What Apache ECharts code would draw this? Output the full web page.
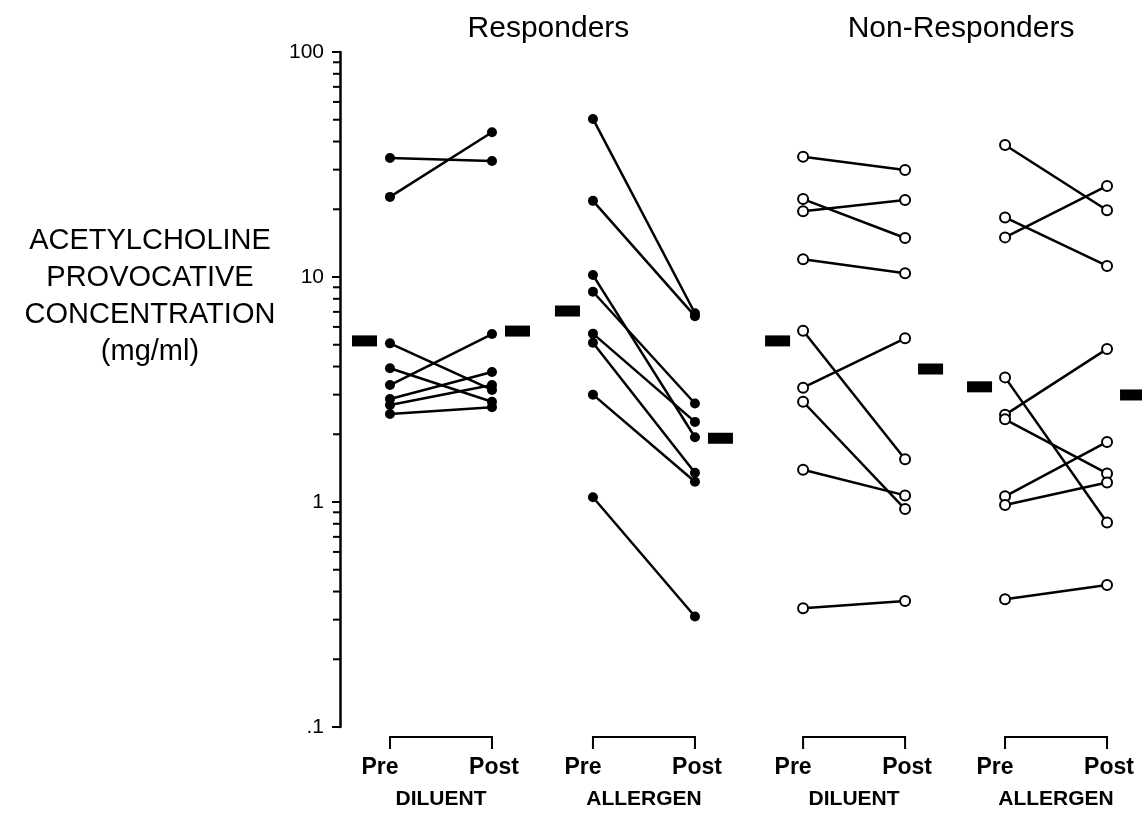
<!DOCTYPE html>
<html>
<head>
<meta charset="utf-8">
<title>Acetylcholine provocative concentration</title>
<script src="https://cdn.jsdelivr.net/npm/echarts@6/dist/echarts.min.js"></script>
<style>
  html, body { margin: 0; padding: 0; background: #fff; }
  #chart { width: 1142px; height: 816px; }
</style>
</head>
<body>
<div id="chart"></div>
<script>
// values (mg/ml), pre and post paired by index
const respDilPre  = [33.8, 22.7, 5.07, 3.93, 3.31, 2.87, 2.70, 2.46]
const respDilPost = [32.8, 44.0, 3.15, 2.79, 5.58, 3.78, 3.31, 2.64]
const respAllPre  = [50.4, 21.8, 10.2, 8.6, 5.6, 5.1, 3.0, 1.05]
const respAllPost = [6.9, 6.7, 1.94, 2.74, 2.27, 1.35, 1.23, 0.31]
const nrDilPre    = [34.2, 22.2, 19.6, 12.0, 5.77, 3.22, 2.79, 1.39, 0.337]
const nrDilPost   = [29.9, 14.9, 22.0, 10.4, 1.55, 5.34, 0.93, 1.07, 0.363]
const nrAllPre    = [38.6, 18.4, 15.0, 3.58, 2.44, 2.33, 1.06, 0.97, 0.37]
const nrAllPost   = [19.8, 11.2, 25.4, 0.81, 4.79, 1.34, 1.85, 1.22, 0.428]

// group means (black bars)
const meanPre  = [5.2, 7.06, 5.2, 3.25]
const meanPost = [5.75, 1.92, 3.9, 2.99]

const groupNames = ['DILUENT', 'ALLERGEN', 'DILUENT', 'ALLERGEN']
const timeLabels = ['Pre', 'Post']
const populations = ['Responders', 'Non-Responders']
const minorTicks = [0.2, 0.3, 0.4, 0.5, 0.6, 0.7, 0.8, 0.9, 2, 3, 4, 5, 6, 7, 8, 9, 20, 30, 40, 50, 60, 70, 80, 90]

// layout: x units, pre→post distance = 1
const xPre = [0.49, 2.48, 4.54, 6.52]
const barOffset = 0.25
const FONT = 'Liberation Sans'

const groups = [
  { pre: respDilPre, post: respDilPost, open: false },
  { pre: respAllPre, post: respAllPost, open: false },
  { pre: nrDilPre, post: nrDilPost, open: true },
  { pre: nrAllPre, post: nrAllPost, open: true },
]

const series = []
groups.forEach((g, gi) => {
  g.pre.forEach((v, k) => {
    series.push({
      type: 'line',
      data: [[xPre[gi], v], [xPre[gi] + 1, g.post[k]]],
      symbol: g.open ? 'emptyCircle' : 'circle',
      symbolSize: 10,
      showSymbol: true,
      lineStyle: { color: '#000', width: 2.5 },
      itemStyle: { color: '#000', borderWidth: g.open ? 2.4 : 0 },
      silent: true,
      z: 3,
    })
  })
})

// mean bars
series.push({
  type: 'scatter',
  symbol: 'rect',
  symbolSize: [25, 11],
  itemStyle: { color: '#000', opacity: 1 },
  data: xPre.map((x, i) => [x - barOffset, meanPre[i]])
    .concat(xPre.map((x, i) => [x + 1 + barOffset, meanPost[i]])),
  z: 4,
})

// minor log ticks on the y axis
series.push({
  type: 'custom',
  clip: false,
  data: minorTicks.map(v => [0, v]),
  renderItem(params, api) {
    const p = api.coord([0, api.value(1)])
    return {
      type: 'line',
      shape: { x1: p[0] - 7, y1: p[1], x2: p[0], y2: p[1] },
      style: { stroke: '#000', lineWidth: 2 },
    }
  },
  z: 5,
})

// brackets + Pre/Post + group names under the plot
series.push({
  type: 'custom',
  clip: false,
  data: groupNames.map((n, i) => [i, 0.1]),
  renderItem(params, api) {
    const i = params.dataIndex
    const a = api.coord([xPre[i], 0.1])
    const b = api.coord([xPre[i] + 1, 0.1])
    const y0 = a[1]
    const txt = { fill: '#000', font: 'bold 23px "' + FONT + '"', textAlign: 'center', textVerticalAlign: 'middle' }
    return {
      type: 'group',
      children: [
        {
          type: 'polyline',
          shape: { points: [[a[0], y0 + 22], [a[0], y0 + 10], [b[0], y0 + 10], [b[0], y0 + 22]] },
          style: { stroke: '#000', lineWidth: 2, fill: null },
        },
        { type: 'text', x: a[0] - 10, y: y0 + 41, style: Object.assign({ text: timeLabels[0] }, txt) },
        { type: 'text', x: b[0] + 2, y: y0 + 41, style: Object.assign({ text: timeLabels[1] }, txt) },
        { type: 'text', x: (a[0] + b[0]) / 2, y: y0 + 72, style: Object.assign({}, txt, { text: groupNames[i], font: 'bold 21px "' + FONT + '"' }) },
      ],
    }
  },
})

// population titles above the plot
series.push({
  type: 'custom',
  clip: false,
  data: populations.map((p, i) => [i, 100]),
  renderItem(params, api) {
    const i = params.dataIndex
    const a = api.coord([xPre[i * 2], 100])
    const b = api.coord([xPre[i * 2 + 1] + 1, 100])
    return {
      type: 'text',
      x: (a[0] + b[0]) / 2 + 6,
      y: a[1] - 23,
      style: {
        text: populations[i], fill: '#000', font: '30px "' + FONT + '"',
        textAlign: 'center', textVerticalAlign: 'middle',
      },
    }
  },
})

const chart = echarts.init(document.getElementById('chart'))
chart.setOption({
  animation: false,
  textStyle: { fontFamily: FONT },
  grid: { left: 340, right: 0, top: 52, bottom: 89 },
  graphic: [{
    type: 'text',
    left: 20,
    top: 222,
    style: {
      text: 'ACETYLCHOLINE\nPROVOCATIVE\nCONCENTRATION\n(mg/ml)',
      font: '29px "' + FONT + '"',
      fill: '#000',
      textAlign: 'center',
      lineHeight: 37,
      width: 260,
    },
  }],
  xAxis: {
    type: 'value',
    min: 0,
    max: 802 / 102,
    show: false,
  },
  yAxis: {
    type: 'log',
    logBase: 10,
    min: 0.1,
    max: 100,
    splitLine: { show: false },
    axisLine: { show: true, lineStyle: { color: '#000', width: 2.5 } },
    axisTick: { show: true, length: 8, lineStyle: { color: '#000', width: 2 } },
    axisLabel: {
      color: '#000',
      fontSize: 21,
      margin: 16,
      formatter: v => (v < 1 ? '.' + Math.round(v * 10) : String(Math.round(v))),
    },
  },
  series: series,
})
</script>
</body>
</html>
